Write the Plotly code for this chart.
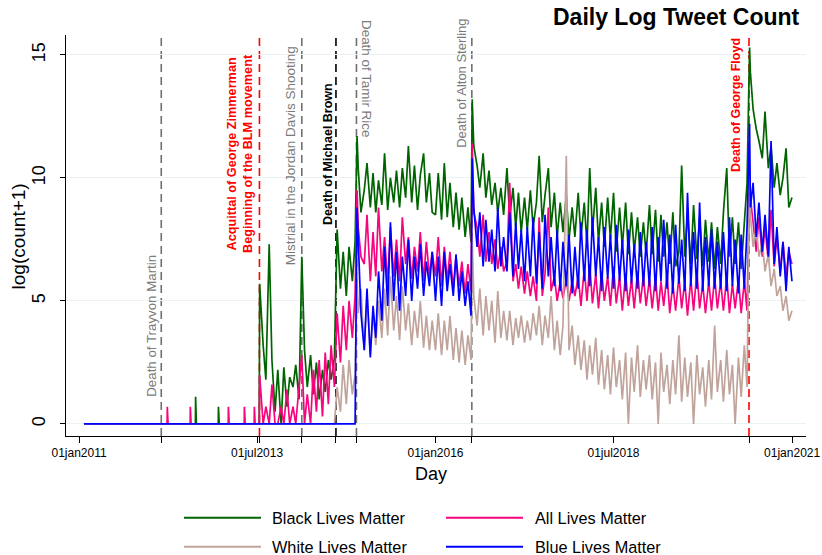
import pandas as pd
import plotly.graph_objects as go

# ---------------- data ----------------
series_names = ["Black Lives Matter", "All Lives Matter", "White Lives Matter", "Blue Lives Matter"]

start_date = "2011-01-26"
pre_end = "2013-07-12"
end_date = "2020-12-31"

# isolated early days with tweets (before the acquittal)
blm_pre_dates = ["2012-08-20", "2012-12-15"]
blm_pre_vals = [1.1, 0.7]
alm_pre_dates = ["2012-03-28", "2012-07-24", "2013-02-04", "2013-04-27", "2013-06-17"]
alm_pre_vals = [0.7, 0.7, 0.7, 0.7, 0.7]
wlm_pre_dates = []
wlm_pre_vals = []
bluelm_pre_dates = []
bluelm_pre_vals = []

# semi-monthly readings (1st and 15th), one row per year: 2013 starts Aug 1
blm_semi = [
    [3.2, 1.8, 7.3, 2.6, 0.5, 2.2, 0.0, 2.3, 0.7, 1.9],
    [1.5, 2.4, 1.0, 6.8, 3.0, 1.5, 2.8, 1.2, 2.5, 1.0, 2.2, 1.3, 2.6, 1.8, 2.7, 7.9, 5.5, 7.0, 5.2, 7.2, 5.8, 7.4, 10.4, 8.6],
    [9.5, 10.6, 8.8, 10.2, 8.6, 9.9, 8.9, 11.0, 8.7, 10.0, 9.0, 10.3, 8.8, 10.4, 9.2, 11.3, 9.0, 10.5, 8.7, 10.1, 11.0, 9.0, 10.2, 8.6],
    [8.5, 10.2, 8.3, 10.6, 8.4, 9.8, 8.0, 9.4, 7.9, 9.2, 7.6, 8.8, 7.4, 11.3, 10.5, 9.6, 11.0, 9.2, 10.3, 8.9, 9.8, 8.6, 9.6, 8.5],
    [10.4, 8.4, 9.6, 8.0, 9.4, 7.8, 9.2, 7.9, 9.5, 8.0, 9.0, 10.9, 8.2, 9.3, 10.4, 8.0, 9.4, 7.6, 9.0, 7.8, 9.3, 7.5, 8.8, 7.6],
    [9.4, 7.6, 9.0, 7.3, 10.4, 7.8, 9.6, 7.4, 9.0, 7.2, 9.2, 7.5, 9.4, 7.0, 8.8, 7.2, 9.0, 6.9, 8.6, 7.0, 8.4, 6.8, 8.2, 6.9],
    [8.9, 6.9, 8.7, 6.6, 8.5, 6.8, 8.2, 6.5, 8.6, 6.4, 7.0, 10.5, 6.8, 8.6, 6.5, 8.9, 6.7, 8.4, 6.4, 8.3, 6.6, 8.2, 6.3, 8.0],
    [6.5, 8.6, 10.4, 6.8, 8.4, 6.5, 8.2, 6.3, 8.3, 9.8, 14.3, 12.8, 12.0, 11.5, 10.8, 12.7, 10.4, 11.3, 9.6, 10.6, 9.3, 10.0, 11.2, 8.8],
]
alm_semi = [
    [0.0, 0.7, 0.0, 1.6, 0.0, 0.0, 0.7, 0.0, 1.4, 0.0],
    [0.7, 0.0, 1.5, 2.8, 0.0, 1.2, 0.0, 2.2, 0.5, 2.6, 0.3, 2.9, 0.8, 3.2, 1.5, 4.5, 2.5, 4.8, 3.0, 5.0, 3.5, 5.2, 8.0, 6.8],
    [6.5, 8.5, 5.8, 7.8, 6.0, 8.8, 6.2, 7.6, 5.7, 8.0, 6.0, 7.5, 5.8, 8.4, 6.5, 7.6, 5.9, 7.2, 6.2, 7.8, 5.8, 7.4, 6.0, 7.0],
    [6.0, 7.6, 5.6, 7.2, 5.8, 7.0, 5.5, 6.8, 5.6, 6.6, 5.3, 6.5, 5.4, 8.6, 8.0, 6.8, 8.5, 6.6, 7.8, 6.5, 7.5, 6.3, 7.2, 6.2],
    [6.6, 9.8, 5.8, 6.5, 5.5, 6.4, 5.3, 6.2, 5.2, 6.0, 5.0, 8.4, 5.2, 6.1, 8.8, 5.4, 6.0, 5.0, 5.8, 5.1, 5.9, 5.0, 5.8, 5.2],
    [6.0, 4.8, 6.3, 5.0, 6.5, 4.9, 6.1, 4.7, 6.2, 5.0, 6.0, 4.8, 6.4, 4.9, 6.0, 4.6, 6.1, 4.8, 5.9, 4.7, 6.2, 4.9, 6.0, 4.8],
    [5.9, 4.7, 6.0, 4.6, 5.8, 4.8, 6.1, 4.5, 5.7, 4.6, 6.0, 4.7, 5.8, 4.4, 5.9, 4.6, 6.2, 4.7, 5.7, 4.5, 5.8, 4.6, 6.0, 4.7],
    [5.8, 4.6, 6.0, 4.5, 5.7, 4.7, 5.9, 4.5, 5.8, 4.6, 9.2, 8.2, 7.0, 8.4, 6.8, 8.0, 6.6, 8.7, 6.4, 7.6, 6.2, 7.4, 6.0, 7.0],
]
wlm_semi = [
    [0.0, 0.0, 0.0, 0.0, 0.0, 0.0, 0.0, 0.0, 0.0, 0.0],
    [0.0, 0.0, 0.0, 0.0, 0.0, 0.0, 0.0, 0.0, 0.0, 0.0, 0.0, 0.0, 0.0, 0.0, 0.0, 1.5, 0.5, 2.4, 0.8, 2.6, 1.2, 2.0, 4.5, 5.5],
    [3.0, 5.2, 2.8, 4.6, 3.2, 5.0, 3.5, 5.5, 3.6, 6.0, 3.8, 5.2, 3.4, 5.6, 3.8, 4.9, 3.2, 4.6, 3.5, 5.0, 3.1, 4.4, 3.0, 4.2],
    [3.0, 4.5, 2.8, 4.2, 3.0, 4.4, 2.6, 3.9, 2.5, 3.8, 2.4, 3.6, 2.6, 5.2, 4.0, 5.5, 3.6, 5.2, 3.8, 5.0, 3.3, 5.4, 3.5, 4.6],
    [3.4, 4.6, 3.2, 4.3, 3.5, 4.4, 3.3, 4.2, 3.4, 4.5, 3.6, 4.8, 3.2, 4.4, 3.5, 5.2, 3.0, 4.2, 2.8, 4.0, 10.9, 3.0, 4.0, 2.4],
    [3.6, 2.2, 3.4, 1.8, 3.2, 2.0, 3.5, 1.6, 3.0, 1.4, 2.8, 1.2, 3.1, 1.5, 2.6, 1.0, 2.9, 0.0, 2.7, 1.3, 3.2, 1.1, 2.6, 1.4],
    [2.8, 1.0, 2.5, 0.0, 2.9, 1.3, 2.4, 0.8, 2.6, 1.2, 3.6, 0.9, 2.7, 1.1, 2.5, 0.0, 2.8, 1.2, 2.3, 0.7, 2.6, 1.0, 4.0, 1.3],
    [2.6, 0.9, 3.0, 1.2, 2.4, 0.0, 2.7, 1.1, 3.2, 1.5, 8.5, 7.2, 8.0, 6.8, 7.4, 6.2, 6.9, 5.6, 6.3, 5.2, 5.6, 4.6, 5.2, 4.2],
]
bluelm_semi = [
    [0.0, 0.0, 0.0, 0.0, 0.0, 0.0, 0.0, 0.0, 0.0, 0.0],
    [0.0, 0.0, 0.0, 0.0, 0.0, 0.0, 0.0, 0.0, 0.0, 0.0, 0.0, 0.0, 0.0, 0.0, 0.0, 0.0, 0.0, 0.0, 0.0, 0.0, 0.0, 0.0, 7.5, 4.5],
    [3.0, 5.5, 2.7, 4.8, 3.5, 6.2, 4.2, 7.2, 4.8, 8.2, 5.0, 7.0, 4.6, 6.8, 5.2, 7.5, 5.0, 6.8, 5.5, 7.3, 5.2, 6.6, 5.6, 7.0],
    [5.0, 6.8, 4.8, 7.0, 5.4, 6.5, 5.2, 6.9, 5.0, 6.2, 4.8, 5.8, 4.4, 8.8, 7.2, 8.6, 6.4, 8.3, 6.6, 7.9, 6.2, 8.8, 6.4, 7.6],
    [6.2, 8.6, 6.0, 8.2, 6.3, 7.9, 5.8, 8.0, 6.0, 8.4, 5.7, 7.8, 5.5, 8.5, 6.0, 7.6, 5.6, 7.9, 5.4, 7.4, 5.6, 7.7, 5.3, 7.2],
    [5.5, 8.2, 5.8, 7.9, 5.6, 8.4, 6.0, 7.6, 5.4, 8.0, 5.9, 7.7, 5.5, 8.1, 5.8, 7.5, 5.4, 7.9, 5.7, 7.3, 5.5, 7.8, 5.6, 7.4],
    [5.6, 8.0, 5.4, 7.6, 5.8, 8.3, 5.5, 7.7, 5.3, 8.1, 5.7, 7.5, 5.4, 9.4, 5.6, 7.8, 5.5, 9.0, 5.4, 7.6, 5.6, 7.9, 5.5, 7.4],
    [5.5, 7.8, 5.4, 8.4, 5.6, 7.5, 5.3, 7.7, 5.5, 8.0, 8.8, 9.8, 7.6, 9.0, 7.0, 8.5, 6.8, 11.5, 6.5, 8.0, 6.0, 7.4, 5.4, 7.2],
]

# peak days
peak_dates = ["2013-07-14", "2014-11-25", "2016-07-07", "2020-05-28"]
blm_peak = [5.7, 11.7, 13.2, 15.3]
alm_peak = [2.0, 9.5, 11.4, 10.0]
wlm_peak = [0.0, 5.9, 7.5, 10.6]
bluelm_peak = [0.0, 8.8, 10.8, 12.2]

# last day
blm_last = 9.2
alm_last = 6.5
wlm_last = 4.6
bluelm_last = 5.8

# events
event_labels = [
    "Death of Trayvon Martin",
    "Acquittal of George Zimmerman<br>Beginning of the BLM movement",
    "Mistrial in the Jordan Davis Shooting",
    "Death of Michael Brown",
    "Death of Tamir Rice",
    "Death of Alton Sterling",
    "Death of George Floyd",
]
event_dates = ["2012-02-26", "2013-07-13", "2014-02-15", "2014-08-09", "2014-11-22", "2016-07-05", "2020-05-25"]

tick_dates = ["2011-01-01", "2013-07-01", "2016-01-01", "2018-07-01", "2021-01-01"]
tick_labels = ["01jan2011", "01jul2013", "01jan2016", "01jul2018", "01jan2021"]
y_ticks = [0, 5, 10, 15]


def build(pre_dates, pre_vals, semi_rows, peak_vals, last_val):
    pre = pd.Series(0.0, index=pd.date_range(start_date, pre_end, freq="D"))
    for d, v in zip(pre_dates, pre_vals):
        pre[pd.Timestamp(d)] = v
    parts = [pre]
    for i, row in enumerate(semi_rows):
        year = 2013 + i
        start = "2013-08-01" if year == 2013 else f"{year}-01-01"
        idx = pd.date_range(start, periods=len(row), freq="SMS")
        parts.append(pd.Series(row, index=idx, dtype=float))
    parts.append(pd.Series(peak_vals, index=pd.to_datetime(peak_dates), dtype=float))
    parts.append(pd.Series([last_val], index=[pd.Timestamp(end_date)], dtype=float))
    return pd.concat(parts).sort_index()


data = [
    build(blm_pre_dates, blm_pre_vals, blm_semi, blm_peak, blm_last),
    build(alm_pre_dates, alm_pre_vals, alm_semi, alm_peak, alm_last),
    build(wlm_pre_dates, wlm_pre_vals, wlm_semi, wlm_peak, wlm_last),
    build(bluelm_pre_dates, bluelm_pre_vals, bluelm_semi, bluelm_peak, bluelm_last),
]

# ---------------- styles ----------------
line_colors = ["#006400", "#F7057F", "#C0A49C", "#0000FF"]
GRAY_TXT = "#7A7A7A"
GRAY_LN = "#707070"
ev_line_colors = [GRAY_LN, "#FF0000", GRAY_LN, "#000000", GRAY_LN, GRAY_LN, "#FF0000"]
ev_text_colors = [GRAY_TXT, "#FF0000", GRAY_TXT, "#000000", GRAY_TXT, GRAY_TXT, "#FF0000"]
ev_bold = [False, True, False, True, False, False, True]
ev_size = [13.3, 12.7, 13.5, 12.5, 13.4, 13.0, 12.5]
ev_angle = [-90, -90, -90, -90, 90, -90, -90]
ev_xanchor = ["right", "right", "right", "right", "left", "right", "right"]
ev_yanchor = ["bottom", "bottom", "bottom", "bottom", "top", "bottom", "bottom"]
ev_ypaper = [0.0923, 0.4514, 0.4214, 0.5212, 1.0424, 0.7132, 0.6534]
ev_xshift = [0, -1.5, -1.5, 1, 0.5, -1, -4]

FONT = "Liberation Sans, Arial, Helvetica, sans-serif"

fig = go.Figure()
for name, s, c in zip(series_names, data, line_colors):
    fig.add_trace(go.Scatter(
        x=s.index, y=s.values, mode="lines", name=name,
        line=dict(color=c, width=1.7), showlegend=False, hoverinfo="skip",
    ))

shapes = []
annotations = []
for lab, d, lc, tc, b, fs, ang, xa, ya, yp, xs in zip(event_labels, event_dates, ev_line_colors, ev_text_colors,
                                                      ev_bold, ev_size, ev_angle, ev_xanchor, ev_yanchor,
                                                      ev_ypaper, ev_xshift):
    shapes.append(dict(type="line", xref="x", yref="paper", x0=d, x1=d, y0=0, y1=1,
                       line=dict(color=lc, width=1.6, dash="8px,5px"), layer="below"))
    annotations.append(dict(
        text=f"<b>{lab}</b>" if b else lab, x=d, y=yp, xref="x", yref="paper",
        textangle=ang, xanchor=xa, yanchor=ya, xshift=xs, showarrow=False,
        font=dict(family=FONT, size=fs, color=tc), align="center",
    ))

# title and axis titles
annotations.append(dict(text="<b>Daily Log Tweet Count</b>", x=0.9946, y=1.0449, xref="paper", yref="paper",
                        xanchor="right", yanchor="middle", showarrow=False,
                        font=dict(family=FONT, size=23, color="#000")))
annotations.append(dict(text="Day", x=0.4932, y=-0.0948, xref="paper", yref="paper",
                        xanchor="center", yanchor="middle", showarrow=False,
                        font=dict(family=FONT, size=18, color="#000")))
annotations.append(dict(text="log(count+1)", x=-0.0642, y=0.4988, xref="paper", yref="paper",
                        xanchor="center", yanchor="middle", textangle=-90, showarrow=False,
                        font=dict(family=FONT, size=19, color="#000")))

# manual legend (2 x 2)
leg_x0 = [0.1595, 0.5135, 0.1595, 0.5135]
leg_x1 = [0.2635, 0.6176, 0.2635, 0.6176]
leg_tx = [0.2770, 0.6324, 0.2770, 0.6324]
leg_y = [-0.2037, -0.2037, -0.2760, -0.2760]
leg_order = [0, 1, 2, 3]
for k, i in enumerate(leg_order):
    shapes.append(dict(type="line", xref="paper", yref="paper", x0=leg_x0[k], x1=leg_x1[k],
                       y0=leg_y[k], y1=leg_y[k], line=dict(color=line_colors[i], width=2)))
    annotations.append(dict(text=series_names[i], x=leg_tx[k], y=leg_y[k], xref="paper", yref="paper",
                            xanchor="left", yanchor="middle", showarrow=False, borderpad=0,
                            font=dict(family=FONT, size=16.3, color="#000")))

all_tickvals = tick_dates + event_dates
all_ticktext = tick_labels + [""] * len(event_dates)

fig.update_layout(
    width=822, height=555,
    margin=dict(l=66, r=16, t=35, b=119, autoexpand=False),
    paper_bgcolor="white", plot_bgcolor="white",
    font=dict(family=FONT, color="#000"),
    shapes=shapes, annotations=annotations,
    showlegend=False,
    xaxis=dict(
        type="date", range=["2010-10-26", "2021-03-13"], automargin=False,
        tickvals=all_tickvals, ticktext=all_ticktext,
        ticks="outside", ticklen=6, tickwidth=1, tickcolor="#000",
        tickfont=dict(size=12, family=FONT, color="#000"),
        showgrid=False, zeroline=False, showline=True, linecolor="#000", linewidth=1,
    ),
    yaxis=dict(
        range=[-0.49, 15.81], tickvals=y_ticks, tickangle=-90, automargin=False,
        ticks="outside", ticklen=5, tickwidth=1, tickcolor="#000",
        tickfont=dict(size=18, family=FONT, color="#000"),
        ticklabelstandoff=8,
        showgrid=True, gridcolor="#EAF2F3", gridwidth=1,
        zeroline=False, showline=True, linecolor="#000", linewidth=1,
    ),
)

fig.write_html("out.html", config={"displayModeBar": False})
